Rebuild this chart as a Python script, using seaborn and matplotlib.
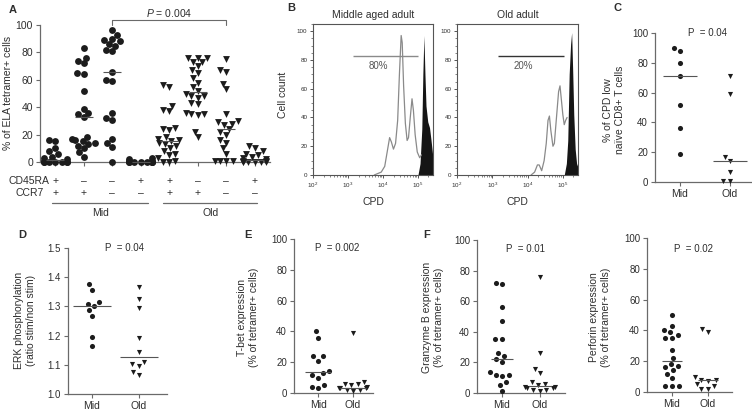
import numpy as np
import pandas as pd
import matplotlib
matplotlib.use('Agg')
import matplotlib.pyplot as plt
from matplotlib.markers import MarkerStyle
from matplotlib.transforms import Affine2D
from matplotlib.ticker import MultipleLocator, AutoMinorLocator, LogLocator, NullFormatter
import seaborn as sns

sns.set_theme(style='ticks')
plt.rcParams['font.family'] = ['Liberation Sans', 'DejaVu Sans']
plt.rcParams['mathtext.fontset'] = 'custom'
plt.rcParams['mathtext.rm'] = 'Liberation Sans'
plt.rcParams['mathtext.it'] = 'Liberation Sans:italic'

# ---- A: % of ELA tetramer+ cells per CD45RA / CCR7 subset ----
a_groups = ['mid_pp', 'mid_mp', 'mid_mm', 'mid_pm', 'old_pp', 'old_mp', 'old_mm', 'old_pm']
a_cd45ra = ['+', '\u2013', '\u2013', '+', '+', '\u2013', '\u2013', '+']
a_ccr7 = ['+', '+', '\u2013', '\u2013', '+', '+', '\u2013', '\u2013']
a_mid_pp = [16, 15, 10, 8, 6, 4, 3, 2, 1, 0, 0, 0, 0, 0, 0, 0]
a_mid_mp = [83, 76, 74, 72, 65, 64, 52, 39, 36, 35, 33, 18, 17, 16, 15, 14, 13, 12, 10, 7, 4]
a_mid_mm = [96, 93, 90, 89, 88, 86, 85, 82, 81, 66, 60, 59, 36, 32, 31, 17, 14, 11, 0]
a_mid_pm = [3, 2, 1, 1, 0, 0, 0, 0, 0, 0, 0, 0]
a_old_pp = [56, 55, 41, 38, 37, 25, 24, 23, 18, 17, 16, 15, 14, 13, 12, 10, 8, 6, 5, 3, 1, 0, 0]
a_old_mp = [76, 76, 76, 73, 73, 70, 67, 65, 61, 58, 55, 52, 50, 48, 48, 47, 43, 42, 36, 35, 35, 34, 22, 18]
a_old_mm = [75, 67, 66, 57, 53, 35, 30, 29, 28, 27, 24, 22, 20, 16, 14, 10, 6, 1, 1, 1, 1]
a_old_pm = [12, 10, 8, 6, 5, 4, 3, 2, 1, 1, 0, 0, 0, 0, 0, 0]

# ---- B: CPD dilution profiles (log10 CPD, cell count) ----
mid_div_log = [3.75, 3.95, 4.05, 4.12, 4.19, 4.24, 4.30, 4.36, 4.42, 4.47, 4.52, 4.55, 4.59,
               4.64, 4.69, 4.73, 4.78, 4.83, 4.87, 4.92, 4.98, 5.05, 5.10]
mid_div_count = [0, 2, 6, 16, 26, 23, 18, 22, 38, 70, 97, 92, 62, 36, 24, 26, 40, 53, 45, 28, 16, 12, 14]
mid_ctrl_log = [5.00, 5.06, 5.11, 5.14, 5.17, 5.20, 5.23, 5.28, 5.33, 5.37, 5.42]
mid_ctrl_count = [0, 8, 32, 70, 97, 70, 48, 37, 33, 25, 14]
old_div_log = [4.10, 4.20, 4.28, 4.33, 4.40, 4.47, 4.53, 4.58, 4.62, 4.66, 4.72, 4.76, 4.82,
               4.88, 4.92, 4.96, 5.00, 5.04, 5.08, 5.12]
old_div_count = [0, 2, 7, 7, 3, 10, 22, 38, 41, 31, 20, 22, 40, 58, 62, 52, 42, 35, 38, 40]
old_ctrl_log = [5.04, 5.10, 5.14, 5.18, 5.22, 5.25, 5.28, 5.31, 5.35, 5.39, 5.42]
old_ctrl_count = [0, 8, 24, 70, 91, 99, 72, 42, 18, 8, 6]
mid_gate = (3.14, 4.99, 82.5, '80%')
old_gate = (3.17, 5.02, 82.5, '20%')

# ---- C: % of CPD low naive CD8+ T cells ----
c_mid = [90, 88, 80, 71, 52, 36, 19]
c_old = [71, 59, 17, 14, 7, 1, 1]
# ---- D: ERK phosphorylation ----
d_mid = [1.376, 1.357, 1.315, 1.308, 1.30, 1.286, 1.266, 1.195, 1.165]
d_old = [1.365, 1.326, 1.294, 1.193, 1.143, 1.111, 1.103, 1.097, 1.077, 1.066]
# ---- E: T-bet ----
e_mid = [40, 36, 24, 24, 21, 14, 13, 12, 10, 5, 4, 3]
e_old = [39, 7, 6, 6, 5, 4, 3, 3, 3, 2, 2, 1]
# ---- F: Granzyme B ----
f_mid = [72, 71, 56, 47, 35, 35, 26, 24, 22, 20, 14, 12, 12, 11, 7, 5, 1]
f_old = [76, 26, 16, 13, 7, 6, 5, 4, 4, 3, 3, 2, 2, 1]
# ---- G: Perforin ----
g_mid = [50, 43, 40, 39, 37, 35, 35, 27, 22, 18, 17, 16, 14, 12, 9, 4, 4, 4]
g_old = [41, 39, 10, 8, 8, 7, 5, 4, 2, 2]

ink = '#1c1c1c'
axc = '#6a6a6a'
txt = '#2e2e2e'

W, H = 752, 417
fig = plt.figure(figsize=(W / 100, H / 100), dpi=100)


def add_ax(l, t, r, b):
    return fig.add_axes([l / W, 1 - b / H, (r - l) / W, (b - t) / H])


def mk(shape, scale):
    return MarkerStyle(shape, transform=Affine2D().scale(scale))


def style_axis(ax, fs=7):
    sns.despine(ax=ax)
    for s in ['left', 'bottom']:
        ax.spines[s].set_color(axc)
        ax.spines[s].set_linewidth(0.9)
    ax.tick_params(direction='out', length=3, width=0.8, color=axc,
                   labelsize=fs, labelcolor=txt, pad=2)
    ax.set_xlabel('')
    ax.set_ylabel('')


def scatter_groups(ax, df, order, size, scale, med_width):
    for age, shape in [('Mid', 'o'), ('Old', 'v')]:
        sns.swarmplot(data=df[df['age'] == age], x='group', y='value', order=order, ax=ax,
                      marker=mk(shape, scale), size=size, color=ink, linewidth=0,
                      warn_thresh=1, clip_on=False, zorder=3)
    sns.pointplot(data=df, x='group', y='value', order=order, ax=ax, estimator='median',
                  errorbar=None, markers='_', linestyles='none', color='#555555',
                  markersize=med_width, markeredgewidth=0.8, zorder=4)


def two_group_df(mid, old):
    return pd.DataFrame({'group': ['Mid'] * len(mid) + ['Old'] * len(old),
                         'age': ['Mid'] * len(mid) + ['Old'] * len(old),
                         'value': mid + old})


# ================= A =================
axA = add_ax(40, 25, 270, 162)
a_values = [a_mid_pp, a_mid_mp, a_mid_mm, a_mid_pm, a_old_pp, a_old_mp, a_old_mm, a_old_pm]
rows = []
for g, vals in zip(a_groups, a_values):
    for v in vals:
        rows.append((g, 'Mid' if g.startswith('mid') else 'Old', v))
dfA = pd.DataFrame(rows, columns=['group', 'age', 'value'])
scatter_groups(axA, dfA, a_groups, 4.4, 1.12, 13)
style_axis(axA, fs=7.5)
axA.set_ylim(0, 100)
axA.set_xlim(-0.53, 7.54)
axA.yaxis.set_major_locator(MultipleLocator(20))
axA.set_xticks(range(len(a_groups)))
axA.set_xticklabels([])
xt = axA.get_xaxis_transform()
for i in range(len(a_groups)):
    axA.text(i, -0.139, a_cd45ra[i], transform=xt, ha='center', va='center', fontsize=7.5, color=txt)
    axA.text(i, -0.226, a_ccr7[i], transform=xt, ha='center', va='center', fontsize=7.5, color=txt)
axA.text(-0.2, -0.139, 'CD45RA', transform=xt, ha='right', va='center', fontsize=7.5, color=txt)
axA.text(-0.4, -0.226, 'CCR7', transform=xt, ha='right', va='center', fontsize=7.5, color=txt)
axA.plot([-0.1, 3.26], [-0.30, -0.30], transform=xt, color=axc, lw=0.9, clip_on=False)
axA.plot([3.79, 7.1], [-0.30, -0.30], transform=xt, color=axc, lw=0.9, clip_on=False)
axA.text(1.58, -0.375, 'Mid', transform=xt, ha='center', va='center', fontsize=7.5, color=txt)
axA.text(5.44, -0.375, 'Old', transform=xt, ha='center', va='center', fontsize=7.5, color=txt)
i0, i1 = a_groups.index('mid_mm'), a_groups.index('old_mm')
axA.plot([i0, i0, i1, i1], [100, 103.6, 103.6, 100], color=axc, lw=0.8, clip_on=False)
axA.text((i0 + i1) / 2, 109, '$P$ = 0.004', ha='center', va='center', fontsize=7.5, color=txt)
fig.text(8 / W, 1 - 93 / H, '% of ELA tetramer+ cells', rotation=90, ha='center', va='center',
         fontsize=7.5, color=txt)
fig.text(13 / W, 1 - 10 / H, 'A', fontsize=8, fontweight='bold', ha='center', va='center', color=txt)

# ================= B =================
for (l, r), div_log, div_cnt, ctrl_log, ctrl_cnt, gate, title, gcol in [
        ((313, 433), mid_div_log, mid_div_count, mid_ctrl_log, mid_ctrl_count, mid_gate,
         'Middle aged adult', '#8a8a8a'),
        ((457, 578), old_div_log, old_div_count, old_ctrl_log, old_ctrl_count, old_gate,
         'Old adult', '#333333')]:
    ax = add_ax(l, 24, r, 175)
    ax.fill_between(10 ** np.array(ctrl_log), ctrl_cnt, color='#151515', lw=0, zorder=2)
    sns.lineplot(x=10 ** np.array(div_log), y=div_cnt, ax=ax, color='#8a8a8a', lw=0.9,
                 estimator=None, sort=False, zorder=3)
    ax.hlines(gate[2], 10 ** gate[0], 10 ** gate[1], color=gcol, lw=1)
    ax.text(10 ** 3.87, 75.5, gate[3], ha='center', va='center', fontsize=7, color='#555555')
    ax.set_xscale('log')
    ax.set_xlim(10 ** 2, 10 ** 5.43)
    ax.set_ylim(0, 105)
    ax.yaxis.set_major_locator(MultipleLocator(20))
    ax.yaxis.set_minor_locator(AutoMinorLocator(4))
    ax.xaxis.set_major_locator(LogLocator(base=10, numticks=10))
    ax.xaxis.set_minor_locator(LogLocator(base=10, subs=np.arange(2, 10), numticks=20))
    ax.xaxis.set_minor_formatter(NullFormatter())
    for s in ax.spines.values():
        s.set_color('#555555')
        s.set_linewidth(0.8)
    ax.tick_params(which='both', direction='out', color='#555555', labelsize=4.5,
                   labelcolor=txt, pad=1.5)
    ax.tick_params(which='major', length=2.5, width=0.7)
    ax.tick_params(which='minor', length=1.5, width=0.5)
    ax.set_xlabel('CPD', fontsize=7.5, color=txt, labelpad=5)
    ax.set_ylabel('')
    ax.set_title(title, fontsize=7.5, color=txt, pad=4)
fig.text(283 / W, 1 - 95 / H, 'Cell count', rotation=90, ha='center', va='center',
         fontsize=7.5, color=txt)
fig.text(291 / W, 1 - 8 / H, 'B', fontsize=8, fontweight='bold', ha='center', va='center', color=txt)


# ================= C - G =================
def small_panel(rect, mid, old, ylim, ystep, xlim, ptext, px, py, ylab, yl_x, yl_y,
                letter=None, lx=None, ly=None, med_width=20):
    ax = add_ax(*rect)
    df = two_group_df(mid, old)
    scatter_groups(ax, df, ['Mid', 'Old'], 4.6, 0.8, med_width)
    style_axis(ax)
    ax.set_ylim(*ylim)
    ax.set_xlim(*xlim)
    ax.yaxis.set_major_locator(MultipleLocator(ystep))
    ax.set_xticks([0, 1])
    ax.set_xticklabels(['Mid', 'Old'], fontsize=7.5)
    ax.text(px, py, ptext, transform=ax.transAxes, ha='center', va='center', fontsize=7, color=txt)
    fig.text(yl_x / W, 1 - yl_y / H, ylab, rotation=90, ha='center', va='center',
             fontsize=7.5, color=txt, linespacing=1.25)
    if letter:
        fig.text(lx / W, 1 - ly / H, letter, fontsize=8, fontweight='bold', ha='center',
                 va='center', color=txt)
    return ax


axC = small_panel((655, 33, 751, 182), c_mid, c_old, (0, 100), 20, (-0.5, 1.42),
                  'P  = 0.04', 0.55, 1.0, '% of CPD low\nna\u00efve CD8+ T cells', 614, 110,
                  'C', 617, 8, med_width=24)
axD = small_panel((68, 248, 167, 394), d_mid, d_old, (1.0, 1.5), 0.1, (-0.51, 1.6),
                  'P  = 0.04', 0.57, 1.0, 'ERK phosphorylation\n(ratio stim/non stim)', 25, 320,
                  'D', 22, 235, med_width=27)
axD.yaxis.set_major_formatter(matplotlib.ticker.FormatStrFormatter('%.1f'))
axE = small_panel((294, 239, 373, 393), e_mid, e_old, (0, 100), 20, (-0.69, 1.57),
                  'P  = 0.002', 0.55, 0.94, 'T-bet expression\n(% of tetramer+ cells)', 248, 317,
                  'E', 248, 235, med_width=19)
axF = small_panel((477, 240, 565, 393), f_mid, f_old, (0, 100), 20, (-0.66, 1.66),
                  'P  = 0.01', 0.55, 0.94, 'Granzyme B expression\n(% of tetramer+ cells)', 433, 317,
                  'F', 427, 235, med_width=16)
axG = small_panel((647, 238, 732, 392), g_mid, g_old, (0, 100), 20, (-0.69, 1.67),
                  'P  = 0.02', 0.55, 0.93, 'Perforin expression\n(% of tetramer+ cells)', 600, 317,
                  med_width=14)

fig.savefig('out.png', dpi=100, facecolor='white')
